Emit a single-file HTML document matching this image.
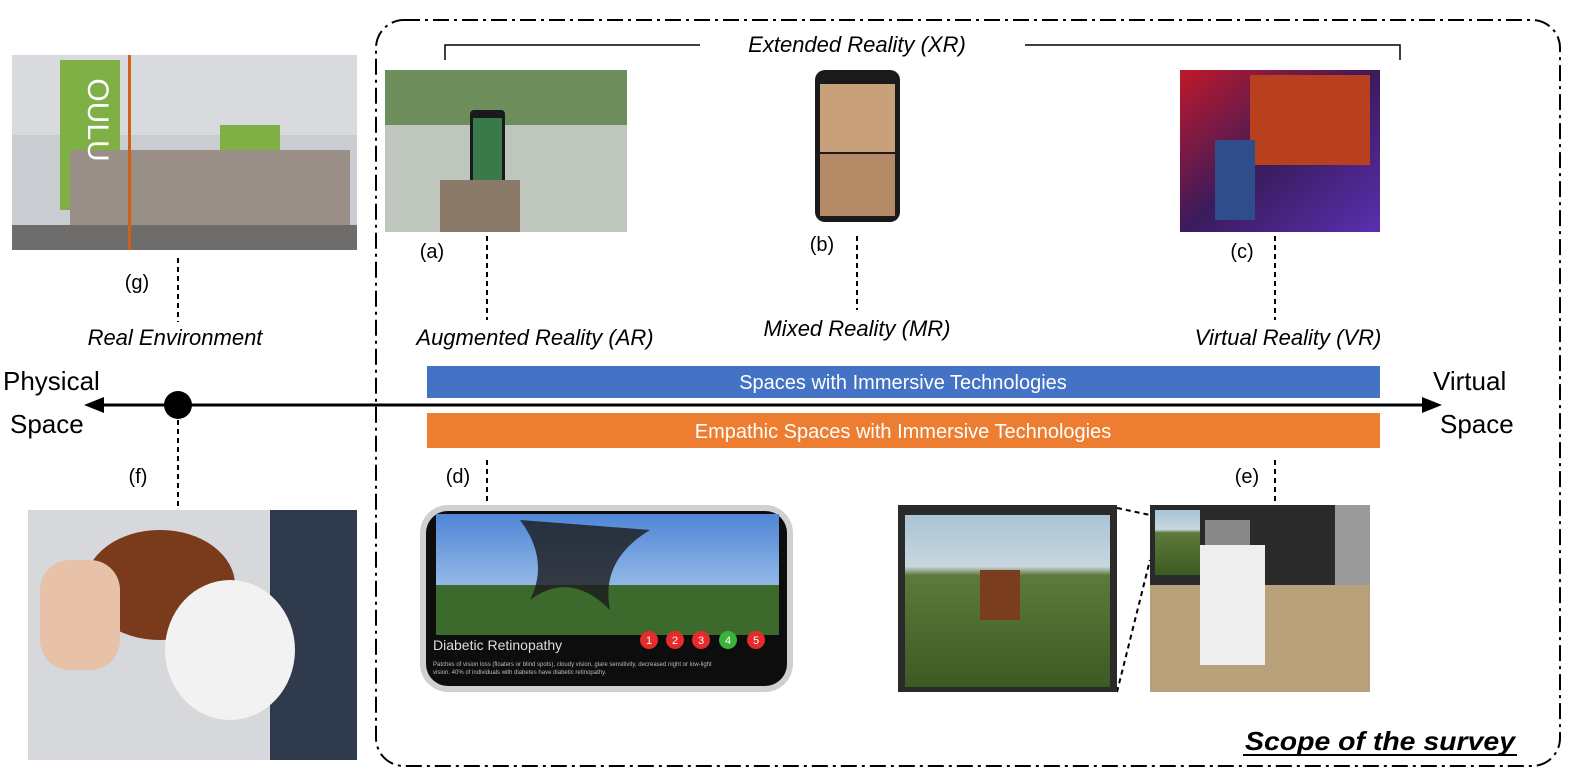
<!DOCTYPE html>
<html><head><meta charset="utf-8"><style>
html,body{margin:0;padding:0;background:#fff;}
svg{display:block;font-family:"Liberation Sans",sans-serif;}
</style></head><body>
<svg width="1569" height="774" viewBox="0 0 1569 774" xmlns="http://www.w3.org/2000/svg">
<defs>
<linearGradient id="sky" x1="0" y1="0" x2="0" y2="1"><stop offset="0" stop-color="#4f86d6"/><stop offset="1" stop-color="#b9d3ef"/></linearGradient>
<linearGradient id="grass" x1="0" y1="0" x2="0" y2="1"><stop offset="0" stop-color="#a9c3d6"/><stop offset="0.3" stop-color="#c8d7df"/><stop offset="0.35" stop-color="#5d7a3a"/><stop offset="1" stop-color="#3e5a24"/></linearGradient>
<linearGradient id="vr" x1="0" y1="0" x2="1" y2="1"><stop offset="0" stop-color="#c0182a"/><stop offset="0.5" stop-color="#3a1b5c"/><stop offset="1" stop-color="#5a2fb0"/></linearGradient>
</defs>
<rect x="376" y="20" width="1184" height="746" rx="28" fill="none" stroke="#000" stroke-width="2" stroke-dasharray="16,5,3,5"/>
<path d="M445,60 V45 H700 M1025,45 H1400 V60" fill="none" stroke="#000" stroke-width="1.5"/>
<text x="857" y="52" font-size="22" font-style="italic" text-anchor="middle">Extended Reality (XR)</text>

<rect x="12" y="55" width="345" height="195" fill="#c9ccd0"/>
<rect x="12" y="55" width="345" height="80" fill="#d8dadd"/>
<rect x="60" y="60" width="60" height="150" fill="#7fb046"/>
<rect x="220" y="125" width="60" height="40" fill="#7fb046"/>
<rect x="70" y="150" width="280" height="80" fill="#9a8f86"/>
<rect x="12" y="225" width="345" height="25" fill="#6e6d6c"/>
<rect x="128" y="55" width="3" height="195" fill="#d0601a"/>
<text x="88" y="120" font-size="30" fill="#fff" text-anchor="middle" transform="rotate(90 88 120)">OULU</text>

<rect x="385" y="70" width="242" height="162" fill="#bfc6bd"/>
<rect x="385" y="70" width="242" height="55" fill="#6d8e5a"/>
<rect x="470" y="110" width="35" height="85" rx="4" fill="#1a1a1a"/>
<rect x="473" y="118" width="29" height="70" fill="#3a7a4a"/>
<rect x="440" y="180" width="80" height="52" fill="#8a7a6a"/>
<rect x="815" y="70" width="85" height="152" rx="10" fill="#1a1a1a"/>
<rect x="820" y="84" width="75" height="68" fill="#c8a07a"/>
<rect x="820" y="154" width="75" height="62" fill="#b58a66"/>
<rect x="1180" y="70" width="200" height="162" fill="url(#vr)"/>
<rect x="1250" y="75" width="120" height="90" fill="#b8401f"/>
<rect x="1215" y="140" width="40" height="80" fill="#2f4d8a"/>

<g font-size="20">
<text x="432" y="258" text-anchor="middle">(a)</text>
<text x="822" y="251" text-anchor="middle">(b)</text>
<text x="1242" y="258" text-anchor="middle">(c)</text>
<text x="137" y="289" text-anchor="middle">(g)</text>
<text x="138" y="483" text-anchor="middle">(f)</text>
<text x="458" y="483" text-anchor="middle">(d)</text>
<text x="1247" y="483" text-anchor="middle">(e)</text>
</g>
<g stroke="#000" stroke-width="2" stroke-dasharray="5,4">
<line x1="178" y1="258" x2="178" y2="322"/>
<line x1="487" y1="236" x2="487" y2="320"/>
<line x1="857" y1="236" x2="857" y2="310"/>
<line x1="1275" y1="236" x2="1275" y2="320"/>
<line x1="178" y1="420" x2="178" y2="508"/>
<line x1="487" y1="460" x2="487" y2="505"/>
<line x1="1275" y1="460" x2="1275" y2="505"/>
<line x1="1117" y1="508" x2="1150" y2="515"/>
<line x1="1117" y1="692" x2="1150" y2="560"/>
</g>
<g font-size="22" font-style="italic" text-anchor="middle">
<text x="175" y="345">Real Environment</text>
<text x="535" y="345">Augmented Reality (AR)</text>
<text x="857" y="336">Mixed Reality (MR)</text>
<text x="1288" y="345">Virtual Reality (VR)</text>
</g>
<rect x="427" y="366" width="953" height="32" fill="#4472c4"/>
<text x="903" y="389" font-size="20" fill="#fff" text-anchor="middle">Spaces with Immersive Technologies</text>
<rect x="427" y="413" width="953" height="35" fill="#ed7d31"/>
<text x="903" y="438" font-size="20" fill="#fff" text-anchor="middle">Empathic Spaces with Immersive Technologies</text>
<line x1="100" y1="405" x2="1425" y2="405" stroke="#000" stroke-width="3"/>
<path d="M84,405 L104,397 L104,413 z" fill="#000"/>
<path d="M1442,405 L1422,397 L1422,413 z" fill="#000"/>
<circle cx="178" cy="405" r="14" fill="#000"/>
<g font-size="26">
<text x="3" y="390">Physical</text>
<text x="10" y="433">Space</text>
<text x="1433" y="390">Virtual</text>
<text x="1440" y="433">Space</text>
</g>

<rect x="28" y="510" width="329" height="250" fill="#d6d8db"/>
<rect x="270" y="510" width="87" height="250" fill="#2f3a4d"/>
<ellipse cx="160" cy="585" rx="75" ry="55" fill="#7a3a1c"/>
<ellipse cx="230" cy="650" rx="65" ry="70" fill="#f2f2f2"/>
<rect x="40" y="560" width="80" height="110" rx="30" fill="#e8c2a8"/>
<rect x="420" y="505" width="373" height="187" rx="28" fill="#d0d0d0"/>
<rect x="426" y="511" width="361" height="175" rx="22" fill="#0d0d0d"/>
<rect x="436" y="514" width="343" height="110" fill="url(#sky)"/>
<rect x="436" y="585" width="343" height="50" fill="#3c6a2c"/>
<path d="M520,520 q30,40 10,80 q40,-30 80,10 q-10,-50 40,-80 z" fill="#1a1a1a" opacity="0.8"/>
<g font-size="11" fill="#fff" text-anchor="middle">
<circle cx="649" cy="640" r="9" fill="#e52b2b"/><text x="649" y="644">1</text>
<circle cx="675" cy="640" r="9" fill="#e52b2b"/><text x="675" y="644">2</text>
<circle cx="701" cy="640" r="9" fill="#e52b2b"/><text x="701" y="644">3</text>
<circle cx="728" cy="640" r="9" fill="#3bb33b"/><text x="728" y="644">4</text>
<circle cx="756" cy="640" r="9" fill="#e52b2b"/><text x="756" y="644">5</text>
</g>
<text x="433" y="650" font-size="14" fill="#ddd">Diabetic Retinopathy</text>
<text x="433" y="666" font-size="6" fill="#bbb">Patches of vision loss (floaters or blind spots), cloudy vision, glare sensitivity, decreased night or low-light</text>
<text x="433" y="674" font-size="6" fill="#bbb">vision. 40% of individuals with diabetes have diabetic retinopathy.</text>
<rect x="898" y="505" width="219" height="187" fill="#2a2a2a"/>
<rect x="905" y="515" width="205" height="172" fill="url(#grass)"/>
<rect x="980" y="570" width="40" height="50" fill="#7a3e1e"/>
<rect x="1150" y="505" width="220" height="187" fill="#b8a07a"/>
<rect x="1150" y="505" width="220" height="80" fill="#2a2a2a"/>
<rect x="1155" y="510" width="45" height="65" fill="url(#grass)"/>
<rect x="1200" y="545" width="65" height="120" fill="#eeeeee"/>
<rect x="1205" y="520" width="45" height="25" fill="#888"/>
<rect x="1335" y="505" width="35" height="80" fill="#9a9a9a"/>

<text x="1380" y="750" font-size="26" font-weight="bold" font-style="italic" text-anchor="middle" textLength="270" lengthAdjust="spacingAndGlyphs">Scope of the survey</text>
<line x1="1243" y1="755" x2="1517" y2="755" stroke="#000" stroke-width="2"/>
</svg>
</body></html>
